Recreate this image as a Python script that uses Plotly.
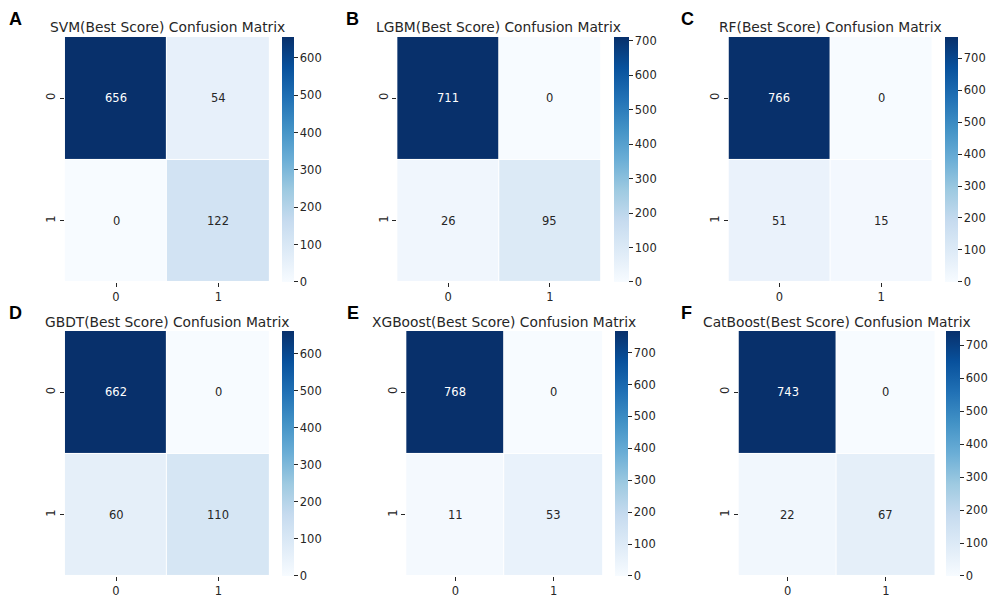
import plotly.graph_objects as go

# Confusion matrices (rows = true label, cols = predicted label)
models = ["SVM", "LGBM", "RF", "GBDT", "XGBoost", "CatBoost"]
panel_letters = ["A", "B", "C", "D", "E", "F"]
svm_cm = [[656, 54], [0, 122]]
lgbm_cm = [[711, 0], [26, 95]]
rf_cm = [[766, 0], [51, 15]]
gbdt_cm = [[662, 0], [60, 110]]
xgb_cm = [[768, 0], [11, 53]]
cat_cm = [[743, 0], [22, 67]]
class_labels = [0, 1]
matrices = [svm_cm, lgbm_cm, rf_cm, gbdt_cm, xgb_cm, cat_cm]

W, H = 988, 598
# pixel boxes: (heatmap x0, heatmap x1, colorbar x0, colorbar x1)
col_boxes = [
    (65, 270, 283, 295),
    (398, 602, 615, 630),
    (730, 934, 947, 960),
    (65, 270, 283, 295),
    (407, 604, 616, 629),
    (740, 937, 948, 962),
]
row_boxes = [(37, 283), (37, 283), (37, 283), (332, 578), (332, 578), (332, 578)]
letter_pos = [(16, 19), (353, 19), (689, 19), (16, 314), (354, 314), (688, 314)]

blues = [
    [0.0, "#f7fbff"], [0.125, "#deebf7"], [0.25, "#c6dbef"], [0.375, "#9ecae1"],
    [0.5, "#6baed6"], [0.625, "#4292c6"], [0.75, "#2171b5"], [0.875, "#08519c"],
    [1.0, "#08306b"],
]

FONT = "DejaVu Sans"
TXT = "#262626"


def hex_to_rgb(h):
    h = h.lstrip("#")
    return [int(h[i:i + 2], 16) / 255 for i in (0, 2, 4)]


def blues_at(t):
    for k in range(len(blues) - 1):
        t0, c0 = blues[k]
        t1, c1 = blues[k + 1]
        if t <= t1:
            f = (t - t0) / (t1 - t0) if t1 > t0 else 0
            a, b = hex_to_rgb(c0), hex_to_rgb(c1)
            return [a[i] + (b[i] - a[i]) * f for i in range(3)]
    return hex_to_rgb(blues[-1][1])


def luminance(rgb):
    lin = [c / 12.92 if c <= 0.03928 else ((c + 0.055) / 1.055) ** 2.4 for c in rgb]
    return 0.2126 * lin[0] + 0.7152 * lin[1] + 0.0722 * lin[2]


fig = go.Figure()
annotations = []

for i, (name, cm) in enumerate(zip(models, matrices)):
    hx0, hx1, cx0, cx1 = col_boxes[i]
    y0, y1 = row_boxes[i]
    zmax = max(max(r) for r in cm)
    xa = "x" if i == 0 else f"x{i + 1}"
    ya = "y" if i == 0 else f"y{i + 1}"
    fig.add_trace(go.Heatmap(
        z=cm, x=class_labels, y=class_labels,
        zmin=0, zmax=zmax, colorscale=blues,
        xgap=1, ygap=1, hoverinfo="skip",
        xaxis=xa, yaxis=ya,
        colorbar=dict(
            x=cx0 / W, xanchor="left", xref="paper",
            y=1 - (y0 + y1) / 2 / H, yanchor="middle", yref="paper",
            len=(y1 - y0) / H, lenmode="fraction",
            thickness=cx1 - cx0, thicknessmode="pixels",
            outlinewidth=0, ticks="outside", ticklen=4, tickwidth=1,
            tickcolor=TXT, dtick=100, tick0=0,
            tickfont=dict(family=FONT, size=11.5, color=TXT),
            xpad=0, ypad=0,
        ),
    ))
    sfx = "" if i == 0 else str(i + 1)
    fig.layout["xaxis" + sfx] = dict(
        domain=[hx0 / W, hx1 / W], anchor=ya, range=[-0.5, 1.5],
        tickvals=class_labels, ticktext=[str(c) for c in class_labels],
        ticks="outside", ticklen=4, tickwidth=1, tickcolor=TXT,
        showgrid=False, zeroline=False, showline=False,
        tickfont=dict(family=FONT, size=11.5, color=TXT),
    )
    fig.layout["yaxis" + sfx] = dict(
        domain=[1 - y1 / H, 1 - y0 / H], anchor=xa, range=[1.5, -0.5],
        tickvals=class_labels, ticktext=[str(c) for c in class_labels],
        ticks="outside", ticklen=4, tickwidth=1, tickcolor=TXT, tickangle=-90,
        showgrid=False, zeroline=False, showline=False,
        tickfont=dict(family=FONT, size=11.5, color=TXT),
    )
    # cell value labels
    for r, row in enumerate(cm):
        for c, v in enumerate(row):
            lum = luminance(blues_at(v / zmax))
            annotations.append(dict(
                x=c, y=r, xref=xa, yref=ya, text=str(v), showarrow=False,
                font=dict(family=FONT, size=11.5,
                          color="#ffffff" if lum <= 0.408 else TXT),
            ))
    # panel title
    annotations.append(dict(
        x=(hx0 + hx1) / 2 / W, y=1 - 27 / H if y0 < 100 else 1 - 323 / H,
        xref="paper", yref="paper", text=f"{name}(Best Score) Confusion Matrix",
        showarrow=False, xanchor="center", yanchor="middle",
        font=dict(family=FONT, size=13.8, color=TXT),
    ))
    lx, ly = letter_pos[i]
    annotations.append(dict(
        x=lx / W, y=1 - ly / H, xref="paper", yref="paper",
        text=f"<b>{panel_letters[i]}</b>", showarrow=False,
        xanchor="center", yanchor="middle",
        font=dict(family="Liberation Sans", size=18, color="#000000"),
    ))

fig.update_layout(
    width=W, height=H, margin=dict(l=0, r=0, t=0, b=0),
    paper_bgcolor="white", plot_bgcolor="white",
    annotations=annotations, showlegend=False,
)

fig.write_html("out.html")
